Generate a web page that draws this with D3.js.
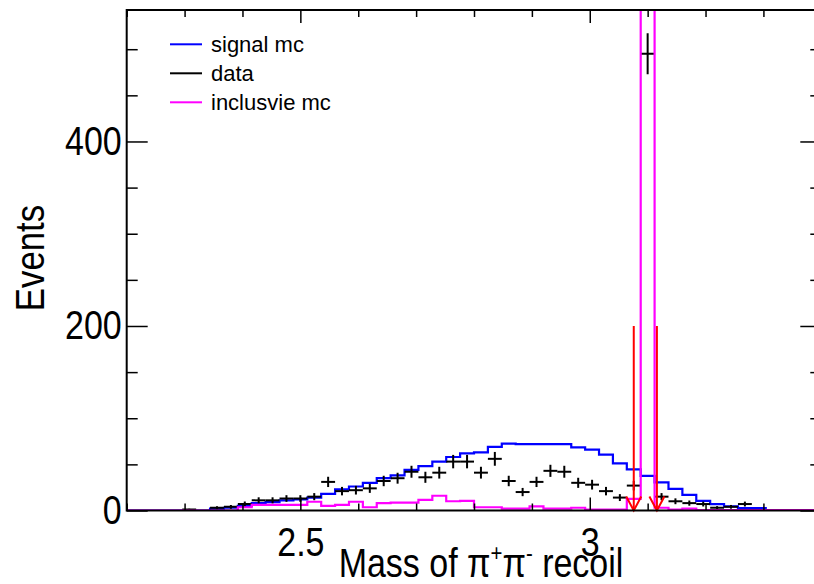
<!DOCTYPE html>
<html><head><meta charset="utf-8">
<script src="https://cdn.jsdelivr.net/npm/d3@7"></script>
<style>body{margin:0;background:#fff}</style>
</head><body>
<svg id="c" width="814" height="584"></svg>
<script>
// ---- data (50 bins, 2.2 .. 3.4, width 0.024) ----
const xMin = 2.2, xMax = 3.4, nBins = 50;
const dataCounts = [0,0,0,0,1,0,3,4,7,11,11,13,13,15,31,21,22,24,32,35,42,36,41,53,53,41,56,32,20,31,43,42,30,28,21,14,27,495,15,10,8,7,3,4,7,0,0,0,0,0];
const signalMC = [0,0,0,0,0,0,2,3,5,8,9,11,12,14,18,23,26,30,35,38,44,48,53,58,62,63,69,72.5,72,72,72,72,68.5,66,60.5,51,44.5,37.5,30.5,23.5,17,10.5,7,4.5,2.5,2.5,0,0,0,0];
const inclusiveMC = [0,0,0,0,0,0,0,0,3.5,6,6,6,6,9.5,5,6,9.5,3.5,8,8.5,8.5,11.5,16,10,10.5,3.5,3.5,2,2,4.5,2,2,3,1,1,1,12.5,3000,3,1,2,0.5,0.5,0.5,0.5,0.5,0.5,0.5,0.5,0.5];
const cutValues = [3.076, 3.116];
const cutHeight = 200;
const yTickMajor = [0, 200, 400];
const xTickMajor = [2.5, 3];
const legendLabels = ["signal mc", "data", "inclusvie mc"];
const legendColors = ["#0000ff", "#000000", "#ff00ff"];

const FONT = "Liberation Sans, Arial, Helvetica, sans-serif";
const SX = 0.85;
const svg = d3.select("#c");
const x = d3.scaleLinear().domain([xMin, xMax]).range([126.7, 821.3]);
const y = d3.scaleLinear().domain([0, 542.5]).range([510.5, 10]);
const bw = (xMax - xMin) / nBins;
const edges = d3.range(nBins + 1).map(i => xMin + i * bw);

svg.append("defs").append("clipPath").attr("id", "clip")
  .append("rect").attr("x", x(xMin)).attr("y", y(542.5)).attr("width", x(xMax) - x(xMin)).attr("height", y(0) - y(542.5));

const plot = svg.append("g").attr("clip-path", "url(#clip)");

function stepPts(vals) {
  const pts = vals.map((v, i) => [edges[i], v]);
  pts.push([edges[nBins], vals[nBins - 1]]);
  return pts;
}
const stepLine = d3.line().x(d => x(d[0])).y(d => y(Math.min(d[1], 600))).curve(d3.curveStepAfter);

plot.append("path").attr("d", stepLine(stepPts(signalMC)))
  .attr("fill", "none").attr("stroke", "#0000ff").attr("stroke-width", 2.2);

// data points with error bars
const dg = plot.append("g").attr("stroke", "#000").attr("stroke-width", 2);
dataCounts.forEach((c, i) => {
  if (c <= 0) return;
  const cx = x(edges[i] + bw / 2);
  const e = Math.sqrt(c);
  dg.append("line").attr("x1", x(edges[i])).attr("x2", x(edges[i + 1])).attr("y1", y(c)).attr("y2", y(c));
  dg.append("line").attr("x1", cx).attr("x2", cx).attr("y1", y(c - e)).attr("y2", y(c + e));
});

plot.append("path").attr("d", stepLine(stepPts(inclusiveMC)))
  .attr("fill", "none").attr("stroke", "#ff00ff").attr("stroke-width", 2.2);

// cut arrows
cutValues.forEach(v => {
  const ax = x(v), y0 = y(cutHeight), y1 = y(0);
  const g = svg.append("g").attr("stroke", "#ff0000").attr("stroke-width", 2).attr("fill", "none");
  g.append("line").attr("x1", ax).attr("x2", ax).attr("y1", y0).attr("y2", y1);
  g.append("path").attr("d", `M${ax - 7.5},${y1 - 14}L${ax},${y1}L${ax + 7.5},${y1 - 14}`);
});

// frame
svg.append("rect").attr("x", x(xMin)).attr("y", y(542.5)).attr("width", x(xMax) - x(xMin)).attr("height", y(0) - y(542.5))
  .attr("fill", "none").attr("stroke", "#000").attr("stroke-width", 2);

// axes
const yMinor = d3.range(0, 542.5, 50).filter(v => !yTickMajor.includes(v));
const xMinor = d3.range(2.2, 3.4001, 0.1).map(v => +v.toFixed(2)).filter(v => !xTickMajor.includes(v));
const tickStyle = g => { g.select(".domain").remove(); g.selectAll(".tick line").attr("stroke", "#000").attr("stroke-width", 1.5); };

svg.append("g").attr("transform", `translate(${x(xMin)},0)`)
  .call(d3.axisLeft(y).tickValues(yTickMajor).tickSize(-21).tickPadding(5).tickFormat(d3.format("d")))
  .call(tickStyle)
  .call(g => g.selectAll("text").attr("font-family", FONT).attr("font-size", 40).attr("fill", "#000")
    .attr("x", 0).attr("transform", `translate(-5,0) scale(${SX},1)`));
svg.append("g").attr("transform", `translate(${x(xMin)},0)`)
  .call(d3.axisLeft(y).tickValues(yMinor).tickSize(-11).tickFormat("")).call(tickStyle);
svg.append("g").attr("transform", `translate(${x(xMax)},0)`)
  .call(d3.axisRight(y).tickValues(yTickMajor).tickSize(-21).tickFormat("")).call(tickStyle);
svg.append("g").attr("transform", `translate(${x(xMax)},0)`)
  .call(d3.axisRight(y).tickValues(yMinor).tickSize(-11).tickFormat("")).call(tickStyle);

svg.append("g").attr("transform", `translate(0,${y(0)})`)
  .call(d3.axisBottom(x).tickValues(xTickMajor).tickSize(-13).tickPadding(17).tickFormat(d => String(d)))
  .call(tickStyle)
  .call(g => g.selectAll("text").attr("font-family", FONT).attr("font-size", 40).attr("fill", "#000")
    .attr("transform", `scale(${SX},1)`));
svg.append("g").attr("transform", `translate(0,${y(0)})`)
  .call(d3.axisBottom(x).tickValues(xMinor).tickSize(-7).tickFormat("")).call(tickStyle);
svg.append("g").attr("transform", `translate(0,${y(542.5)})`)
  .call(d3.axisTop(x).tickValues(xTickMajor).tickSize(-13).tickFormat("")).call(tickStyle);
svg.append("g").attr("transform", `translate(0,${y(542.5)})`)
  .call(d3.axisTop(x).tickValues(xMinor).tickSize(-7).tickFormat("")).call(tickStyle);

// axis titles
const xt = svg.append("text").attr("transform", `translate(481,577) scale(${SX},1)`).attr("text-anchor", "middle")
  .attr("font-family", FONT).attr("font-size", 40).attr("fill", "#000");
xt.append("tspan").text("Mass of π");
xt.append("tspan").attr("font-size", 24).attr("dy", -16).text("+");
xt.append("tspan").attr("dy", 16).text("π");
xt.append("tspan").attr("font-size", 24).attr("dy", -16).text("-");
xt.append("tspan").attr("dy", 16).text(" recoil");

svg.append("text").attr("transform", `translate(44,258) rotate(-90) scale(0.87,1)`).attr("text-anchor", "middle")
  .attr("font-family", FONT).attr("font-size", 40).attr("fill", "#000").text("Events");

// legend
const lg = svg.append("g");
legendLabels.forEach((t, i) => {
  const ly = 44.3 + i * 29;
  lg.append("line").attr("x1", 170).attr("x2", 202).attr("y1", ly).attr("y2", ly).attr("stroke", legendColors[i]).attr("stroke-width", 2);
  lg.append("text").attr("x", 211).attr("y", ly + 7.4).attr("font-family", FONT).attr("font-size", 22).attr("fill", "#000").text(t);
});
</script>
</body></html>
